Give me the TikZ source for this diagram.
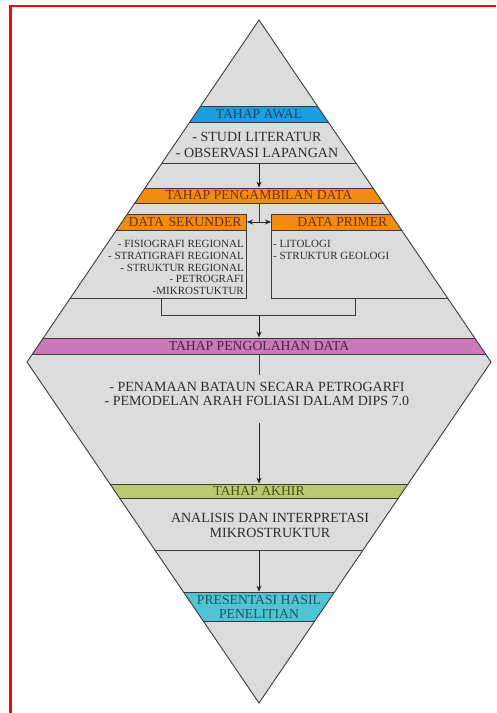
\documentclass[tikz,border=0pt]{standalone}
\usepackage{fontspec}
\setmainfont{Liberation Serif}
\usetikzlibrary{arrows.meta}
\definecolor{gfill}{RGB}{220,220,220}
\definecolor{edge}{RGB}{60,60,60}
\definecolor{txt}{RGB}{45,45,45}
\definecolor{cblue}{RGB}{30,158,222}
\definecolor{tblue}{RGB}{25,70,120}
\definecolor{corange}{RGB}{240,140,20}
\definecolor{torange}{RGB}{120,45,10}
\definecolor{cmag}{RGB}{202,122,186}
\definecolor{tmag}{RGB}{80,30,75}
\definecolor{colive}{RGB}{186,200,110}
\definecolor{tolive}{RGB}{70,80,30}
\definecolor{ccyan}{RGB}{80,195,212}
\definecolor{tcyan}{RGB}{25,85,100}
\begin{document}
\begin{tikzpicture}[x=1pt,y=-1pt,
  band/.style={draw=edge, line width=0.8pt, minimum width=520pt, inner sep=0pt,
    font=\fontsize{13.7}{15}\selectfont},
  body/.style={text=txt, font=\fontsize{14}{16}\selectfont, align=center, inner sep=0pt},
  small/.style={text=txt, font=\fontsize{11}{11.6}\selectfont, inner sep=0pt},
  arr/.style={draw=black!85, line width=0.8pt, -{Stealth[length=6pt,width=5pt]}},
  dbl/.style={draw=black!85, line width=0.8pt, {Stealth[length=6pt,width=5pt]}-{Stealth[length=6pt,width=5pt]}},
  ln/.style={draw=edge, line width=0.8pt}]
\useasboundingbox (0,0) rectangle (496,713);
\fill[white] (0,0) rectangle (496,713);
\draw[red, line width=2.8pt] (10.5,713) -- (10.5,6) -- (496,6);
\fill[gfill] (259,20) -- (491,362) -- (259,703) -- (27,362) -- cycle;
\begin{scope}
\clip (259,20) -- (491,362) -- (259,703) -- (27,362) -- cycle;
\node[band, fill=cblue, text=tblue, minimum height=16pt] (awal) at (259,114) {TAHAP AWAL};
\draw[ln] (0,163) -- (496,163);
\node[band, fill=corange, text=torange, minimum height=15pt] (ambil) at (259,195.5) {TAHAP PENGAMBILAN DATA};
\node[band, fill=corange, text=torange, minimum height=16pt, minimum width=0pt,
  text width=237pt, inner xsep=5pt, align=right, anchor=east] (sek) at (247,222) {DATA SEKUNDER};
\node[band, fill=corange, text=torange, minimum height=16pt, minimum width=142pt, anchor=west] (pri) at (271,222) {DATA PRIMER};
\node[ln, minimum width=257pt, minimum height=68pt, inner sep=0pt, anchor=north east] (sekbox) at (247,230) {};
\node[ln, minimum width=240pt, minimum height=68pt, inner sep=0pt, anchor=north west] (pribox) at (271,230) {};
\node[band, fill=cmag, text=tmag, minimum height=16pt] (olah) at (259,346) {TAHAP PENGOLAHAN DATA};
\node[band, fill=colive, text=tolive, minimum height=14pt] (akhir) at (259,491) {TAHAP AKHIR};
\draw[ln] (0,550) -- (496,550);
\node[band, fill=ccyan, text=tcyan, minimum height=29pt, align=center] (pres) at (259,606.5) {PRESENTASI HASIL\\[-1pt]PENELITIAN};
\end{scope}
\draw[edge, line width=0.9pt, line join=miter] (259,20) -- (491,362) -- (259,703) -- (27,362) -- cycle;

\node[body] (awaltxt) at (257,145) {- STUDI LITERATUR\\- OBSERVASI LAPANGAN};
\coordinate (l1) at (259,163);
\draw[arr] (l1) -- (ambil.north);
\coordinate (j) at (259,222);
\draw[ln] (ambil.south) -- (j);
\draw[dbl] (sek.east) -- (pri.west);

\node[small, align=right, anchor=north east] (sektxt) at (244,240.5)
  {- FISIOGRAFI REGIONAL\\- STRATIGRAFI REGIONAL\\- STRUKTUR REGIONAL\\- PETROGRAFI\\-MIKROSTUKTUR};
\node[small, align=left, anchor=north west] (pritxt) at (273,240.5)
  {- LITOLOGI\\- STRUKTUR GEOLOGI};

\coordinate (b1) at (161,298);
\coordinate (b2) at (161,315);
\coordinate (b3) at (355,315);
\coordinate (b4) at (355,298);
\coordinate (bm) at (259,315);
\draw[ln] (b1) -- (b2) -- (b3) -- (b4);
\draw[arr] (bm) -- (olah.north);

\coordinate (c5) at (259,375);
\draw[ln] (olah.south) -- (c5);
\node[body, font=\fontsize{14}{14}\selectfont] (olahtxt) at (257,394)
  {- PENAMAAN BATAUN SECARA PETROGARFI\\- PEMODELAN ARAH FOLIASI DALAM DIPS 7.0};
\coordinate (c6) at (259,423);
\draw[arr] (c6) -- (akhir.north);

\node[body, font=\fontsize{14}{15}\selectfont] (akhirtxt) at (270,525.5)
  {ANALISIS DAN INTERPRETASI\\MIKROSTRUKTUR};
\coordinate (c7) at (259,550);
\draw[arr] (c7) -- (pres.north);
\end{tikzpicture}
\end{document}
